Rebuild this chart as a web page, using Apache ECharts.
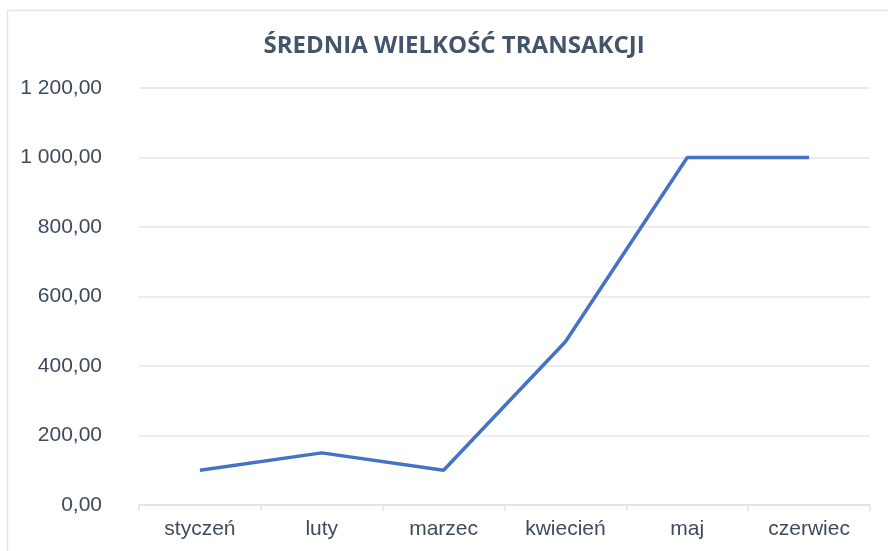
<!DOCTYPE html>
<html><head><meta charset="utf-8">
<script src="https://cdn.jsdelivr.net/npm/echarts@6/dist/echarts.min.js"></script>
<style>html,body{margin:0;padding:0;background:#fff}#c{width:888px;height:551px}</style>
</head><body><div id="c"></div>
<script>
const categories = ['styczeń','luty','marzec','kwiecień','maj','czerwiec'];
const values = [100, 150, 100, 470, 1000, 1000];
const titleText = 'ŚREDNIA WIELKOŚĆ TRANSAKCJI';

function fmt(v){
  const s = v.toFixed(2).split('.');
  const int = s[0].replace(/\B(?=(\d{3})+(?!\d))/g,' ');
  return int + ',' + s[1];
}
const chart = echarts.init(document.getElementById('c'));
chart.setOption({
  animation:false,
  graphic:[{type:'rect',shape:{x:7.5,y:10.5,width:1000,height:1000},style:{fill:'none',stroke:'#e1e5eb',lineWidth:1.5}}],
  title:{text:titleText,left:449,top:29,textAlign:'center',
    textStyle:{fontFamily:'Open Sans',fontWeight:'bold',fontSize:24,color:'#44546a'}},
  grid:{left:139,right:18,top:88,bottom:46},
  xAxis:{type:'category',data:categories,boundaryGap:true,
    axisLine:{lineStyle:{color:'#dfe3ea',width:1.5}},
    axisTick:{show:true,length:6,lineStyle:{color:'#dfe3ea',width:1.5}},
    axisLabel:{fontFamily:'Liberation Sans',fontSize:21,color:'#3f4a5b',margin:14}},
  yAxis:{type:'value',min:0,max:1200,interval:200,
    axisLine:{show:false},axisTick:{show:false},
    splitLine:{lineStyle:{color:'#e2e6ec',width:1.5}},
    axisLabel:{fontFamily:'Liberation Sans',fontSize:21,color:'#3f4a5b',margin:37,formatter:fmt}},
  series:[{type:'line',data:values,symbol:'none',lineStyle:{color:'#4472c4',width:3.5}}]
});
</script></body></html>
